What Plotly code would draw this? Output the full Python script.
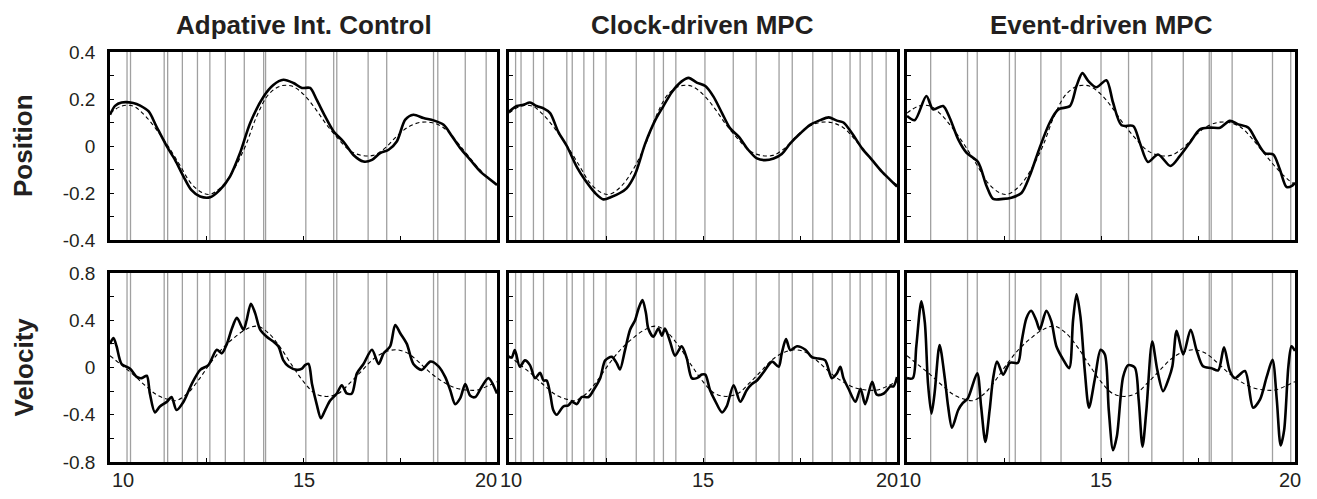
import plotly.graph_objects as go

# ---------------- data ----------------
col_titles = ["Adpative Int. Control", "Clock-driven MPC", "Event-driven MPC"]
row_titles = ["Position", "Velocity"]
x_ticks = [10, 12.5, 15, 17.5, 20]
x_tick_labels = {10: "10", 15: "15", 20: "20"}

ref_pos_t = [10.0,10.3,10.6,10.9,11.2,11.5,11.8,12.1,12.4,12.6,12.9,13.2,13.5,13.8,14.1,14.4,14.7,15.0,15.3,15.6,15.9,16.2,16.5,16.8,17.1,17.4,17.7,18.0,18.3,18.6,18.9,19.2,19.5,19.8,20.0]
ref_pos = [0.14,0.17,0.17,0.13,0.07,0.0,-0.08,-0.16,-0.2,-0.205,-0.17,-0.1,0.0,0.13,0.22,0.255,0.255,0.22,0.16,0.09,0.03,-0.02,-0.04,-0.04,-0.01,0.04,0.08,0.1,0.1,0.08,0.03,-0.03,-0.09,-0.14,-0.165]

ref_vel_t = [10.0,10.3,10.6,10.9,11.2,11.5,11.7,12.0,12.3,12.6,12.9,13.2,13.5,13.8,14.1,14.4,14.7,15.0,15.3,15.6,15.9,16.2,16.5,16.8,17.1,17.4,17.7,18.0,18.3,18.6,18.9,19.2,19.5,19.8,20.0]
ref_vel = [0.1,0.02,-0.06,-0.15,-0.23,-0.27,-0.28,-0.22,-0.1,0.04,0.16,0.25,0.32,0.35,0.29,0.17,0.02,-0.12,-0.22,-0.245,-0.22,-0.13,-0.03,0.07,0.13,0.15,0.12,0.04,-0.05,-0.12,-0.17,-0.19,-0.19,-0.15,-0.12]

aic_pos_t = [10.0,10.13,10.3,10.6,10.78,11.0,11.2,11.47,11.68,11.9,12.1,12.33,12.59,12.84,13.1,13.36,13.62,13.97,14.22,14.48,14.74,14.96,15.17,15.34,15.56,15.78,16.03,16.29,16.55,16.77,16.98,17.2,17.41,17.63,17.84,18.1,18.36,18.62,18.84,19.05,19.31,19.57,19.78,20.0]
aic_pos = [0.133,0.171,0.185,0.183,0.172,0.147,0.083,-0.002,-0.059,-0.13,-0.187,-0.215,-0.218,-0.187,-0.13,-0.03,0.097,0.211,0.26,0.282,0.268,0.247,0.247,0.197,0.126,0.062,0.019,-0.038,-0.066,-0.059,-0.03,-0.016,0.019,0.112,0.133,0.119,0.109,0.09,0.041,-0.009,-0.059,-0.109,-0.137,-0.166]

aic_vel_t = [10.0,10.09,10.17,10.3,10.52,10.69,10.82,10.95,11.03,11.16,11.29,11.47,11.59,11.72,11.9,12.11,12.33,12.54,12.76,12.89,13.02,13.15,13.28,13.45,13.53,13.64,13.75,13.88,14.05,14.22,14.35,14.48,14.61,14.83,14.96,15.04,15.13,15.22,15.34,15.45,15.56,15.69,15.86,15.99,16.12,16.25,16.38,16.55,16.77,16.94,17.07,17.24,17.37,17.5,17.67,17.84,18.05,18.28,18.49,18.66,18.79,18.92,19.05,19.18,19.31,19.44,19.61,19.78,20.0]
aic_vel = [0.20,0.25,0.18,0.03,-0.01,-0.08,-0.09,-0.07,-0.22,-0.38,-0.33,-0.29,-0.25,-0.36,-0.29,-0.14,-0.02,0.02,0.15,0.12,0.20,0.33,0.42,0.32,0.40,0.54,0.46,0.32,0.26,0.22,0.18,0.06,0.01,-0.02,-0.01,0.02,0.03,-0.14,-0.31,-0.43,-0.36,-0.28,-0.22,-0.15,-0.22,-0.22,-0.05,0.03,0.15,0.03,0.12,0.18,0.36,0.29,0.20,0.03,-0.02,0.05,0.01,-0.08,-0.19,-0.31,-0.26,-0.14,-0.24,-0.25,-0.16,-0.09,-0.22]

cmpc_pos_t = [10.0,10.2,10.37,10.54,10.71,10.89,11.06,11.27,11.49,11.75,11.96,12.22,12.43,12.65,12.86,13.03,13.25,13.51,13.77,13.98,14.2,14.45,14.63,14.84,15.06,15.27,15.49,15.7,15.92,16.17,16.39,16.6,16.82,17.03,17.25,17.51,17.76,18.02,18.24,18.45,18.62,18.84,19.1,19.36,19.61,19.83,20.0]
cmpc_pos = [0.146,0.17,0.175,0.185,0.17,0.16,0.14,0.06,0.0,-0.09,-0.145,-0.20,-0.227,-0.216,-0.20,-0.18,-0.12,0.01,0.11,0.17,0.23,0.275,0.29,0.27,0.255,0.21,0.14,0.075,0.04,-0.017,-0.053,-0.06,-0.053,-0.034,0.011,0.054,0.09,0.11,0.122,0.108,0.1,0.054,-0.01,-0.06,-0.109,-0.145,-0.173]

cmpc_vel_t = [10.0,10.07,10.15,10.28,10.41,10.54,10.67,10.8,10.89,10.97,11.06,11.14,11.23,11.4,11.53,11.62,11.75,11.87,12.05,12.18,12.35,12.48,12.65,12.78,12.86,12.99,13.12,13.25,13.34,13.44,13.53,13.59,13.72,13.85,13.94,14.02,14.15,14.28,14.45,14.58,14.71,14.84,14.97,15.06,15.18,15.31,15.49,15.61,15.79,15.96,16.13,16.26,16.39,16.56,16.78,16.95,17.03,17.14,17.25,17.42,17.64,17.81,17.98,18.15,18.32,18.45,18.54,18.62,18.75,18.93,19.06,19.18,19.36,19.48,19.66,19.83,19.91,20.0]
cmpc_vel = [0.09,0.085,0.147,0.006,0.06,0.02,-0.09,-0.045,-0.11,-0.11,-0.22,-0.36,-0.40,-0.33,-0.32,-0.29,-0.31,-0.25,-0.25,-0.19,-0.09,0.06,0.09,0.034,-0.017,0.147,0.32,0.40,0.50,0.57,0.46,0.33,0.26,0.33,0.27,0.33,0.22,0.10,0.18,0.08,-0.09,-0.09,-0.06,-0.06,-0.19,-0.28,-0.38,-0.33,-0.15,-0.29,-0.19,-0.14,-0.11,-0.04,0.05,0.006,0.12,0.24,0.147,0.18,0.15,0.085,0.076,0.06,-0.09,-0.05,0.006,-0.09,-0.18,-0.29,-0.18,-0.31,-0.12,-0.23,-0.22,-0.16,-0.16,-0.08]

empc_pos_t = [10.0,10.2,10.5,10.67,10.93,11.1,11.32,11.53,11.83,12.05,12.22,12.48,12.69,12.95,13.16,13.42,13.68,13.9,14.2,14.37,14.52,14.67,14.88,15.14,15.31,15.53,15.83,16.0,16.21,16.47,16.79,17.03,17.29,17.55,17.81,18.07,18.32,18.54,18.8,19.01,19.23,19.44,19.61,19.78,19.91,20.0]
empc_pos = [0.128,0.11,0.213,0.156,0.17,0.12,0.028,-0.028,-0.068,-0.17,-0.225,-0.225,-0.22,-0.2,-0.128,-0.007,0.1,0.156,0.17,0.256,0.31,0.277,0.25,0.28,0.185,0.088,0.085,0.014,-0.068,-0.036,-0.085,-0.043,0.014,0.071,0.078,0.078,0.107,0.092,0.078,0.021,-0.031,-0.036,-0.1,-0.174,-0.171,-0.156]

empc_vel_t = [10.0,10.15,10.24,10.37,10.46,10.54,10.63,10.71,10.84,10.97,11.06,11.16,11.32,11.44,11.57,11.81,11.91,12.02,12.13,12.22,12.32,12.48,12.65,12.86,12.95,13.08,13.2,13.33,13.42,13.59,13.72,13.85,14.03,14.18,14.28,14.37,14.47,14.58,14.69,14.84,14.99,15.1,15.2,15.31,15.41,15.57,15.7,15.87,15.97,16.07,16.17,16.32,16.45,16.6,16.75,16.84,16.95,17.12,17.31,17.46,17.63,17.85,18.02,18.17,18.32,18.45,18.71,18.92,19.1,19.27,19.42,19.53,19.63,19.72,19.83,19.91,20.0]
empc_vel = [-0.09,-0.09,0.18,0.56,0.38,-0.13,-0.39,-0.22,0.19,-0.08,-0.33,-0.51,-0.36,-0.30,-0.26,-0.05,-0.33,-0.63,-0.36,-0.09,0.05,-0.06,0.04,0.04,0.21,0.42,0.48,0.40,0.32,0.48,0.39,0.18,0.065,-0.006,0.40,0.62,0.43,-0.02,-0.34,-0.10,0.15,0.11,-0.36,-0.70,-0.58,-0.08,0.02,0.0,-0.27,-0.67,-0.36,0.22,-0.02,-0.20,-0.09,0.01,0.31,0.11,0.32,0.15,0.01,-0.006,-0.025,0.17,-0.03,-0.09,-0.03,-0.34,-0.27,-0.08,0.065,-0.27,-0.66,-0.53,0.01,0.18,0.14]

# event (update) instants per controller
aic_events = [10.44,10.53,11.40,11.49,11.87,12.26,12.58,12.98,13.47,13.97,14.02,15.06,15.78,15.86,16.67,17.15,18.36,18.47,19.18,19.72]
cmpc_events = [10.17,10.31,10.63,10.89,11.49,11.63,11.93,12.18,12.50,13.28,13.74,13.98,14.30,15.05,15.78,16.37,16.96,17.30,17.83,18.33,18.79,19.05,19.36,19.72]
empc_events = [10.61,11.56,11.81,12.64,12.79,13.45,13.97,15.00,15.71,16.31,17.12,17.79,17.84,18.38,19.42,19.89]

# ---------------- figure ----------------
W, H = 1317, 499
col_px = [(110, 497), (509, 897), (907, 1295)]
row_px = [(52, 240), (273, 462)]
FONT = "Liberation Sans, Arial, sans-serif"
TXT = "#231f20"

solids = [[(aic_pos_t, aic_pos), (cmpc_pos_t, cmpc_pos), (empc_pos_t, empc_pos)],
          [(aic_vel_t, aic_vel), (cmpc_vel_t, cmpc_vel), (empc_vel_t, empc_vel)]]
refs = [(ref_pos_t, ref_pos), (ref_vel_t, ref_vel)]
events = [aic_events, cmpc_events, empc_events]

fig = go.Figure()
layout = dict(width=W, height=H, margin=dict(l=0, r=0, t=0, b=0, pad=0, autoexpand=False),
              paper_bgcolor="white", plot_bgcolor="white", showlegend=False,
              font=dict(family=FONT, color=TXT))
shapes = []
annotations = []

# x tick-label placement per column: (anchor, pixel shift) for 10, 15, 20
xlab_style = [
    {10: ("left", 0), 15: ("center", 0), 20: ("right", 2)},
    {10: ("center", 2), 15: ("center", 0), 20: ("right", 3)},
    {10: ("center", 3), 15: ("center", 0), 20: ("center", -5)},
]

for r in range(2):
    for c in range(3):
        k = r * 3 + c + 1
        xa = "x" if k == 1 else f"x{k}"
        ya = "y" if k == 1 else f"y{k}"
        for e in events[c]:
            shapes.append(dict(type="line", xref=xa, yref=f"{ya} domain", x0=e, x1=e, y0=0, y1=1,
                               line=dict(color="#a0a0a0", width=1.3), layer="below"))
        rt, rv = refs[r]
        fig.add_trace(go.Scatter(x=rt, y=rv, mode="lines", xaxis=xa, yaxis=ya,
                                 line=dict(color="black", width=1.1, dash="4px,3px", shape="spline")))
        st, sv = solids[r][c]
        fig.add_trace(go.Scatter(x=st, y=sv, mode="lines", xaxis=xa, yaxis=ya,
                                 line=dict(color="black", width=2.6, shape="spline", smoothing=0.8)))
        x0, x1 = col_px[c]
        y0, y1 = row_px[r]
        xkey = "xaxis" if k == 1 else f"xaxis{k}"
        ykey = "yaxis" if k == 1 else f"yaxis{k}"
        layout[xkey] = dict(domain=[x0 / W, x1 / W], anchor=ya, range=[10, 20],
                            showgrid=False, zeroline=False, showline=True, mirror=True,
                            linecolor="black", linewidth=2.5, automargin=False,
                            ticks="inside", ticklen=4, tickcolor="black", tickwidth=1,
                            tickvals=x_ticks, showticklabels=False)
        if r == 1:
            for v, txt in x_tick_labels.items():
                anc, sh = xlab_style[c][v]
                annotations.append(dict(text=txt, x=v, xref=xa, y=1 - 480 / H, yref="paper",
                                        xanchor=anc, yanchor="middle", xshift=sh,
                                        showarrow=False,
                                        font=dict(family=FONT, size=20, color=TXT)))
        if r == 0:
            yv = [-0.4, -0.3, -0.2, -0.1, 0, 0.1, 0.2, 0.3, 0.4]
            yt = ["-0.4", "", "-0.2", "", "0", "", "0.2", "", "0.4"]
            yr = [-0.4, 0.4]
        else:
            yv = [-0.8, -0.6, -0.4, -0.2, 0, 0.2, 0.4, 0.6, 0.8]
            yt = ["-0.8", "", "-0.4", "", "0", "", "0.4", "", "0.8"]
            yr = [-0.8, 0.8]
        layout[ykey] = dict(domain=[1 - y1 / H, 1 - y0 / H], anchor=xa, range=yr,
                            showgrid=False, zeroline=False, showline=True, mirror=True,
                            linecolor="black", linewidth=2.5, automargin=False,
                            ticks="inside", ticklen=4, tickcolor="black", tickwidth=1,
                            tickvals=yv, ticktext=yt, showticklabels=(c == 0),
                            ticklabelstandoff=8,
                            tickfont=dict(family=FONT, size=19, color=TXT))

for c, t in enumerate(col_titles):
    x0, x1 = col_px[c]
    annotations.append(dict(text=f"<b>{t}</b>", x=(x0 + x1) / 2 / W, y=1 - 25 / H,
                            xref="paper", yref="paper", showarrow=False,
                            xanchor="center", yanchor="middle",
                            font=dict(family=FONT, size=26, color=TXT)))
for r, t in enumerate(row_titles):
    y0, y1 = row_px[r]
    annotations.append(dict(text=f"<b>{t}</b>", x=23 / W, y=1 - (y0 + y1) / 2 / H,
                            xref="paper", yref="paper", showarrow=False, textangle=-90,
                            xanchor="center", yanchor="middle",
                            font=dict(family=FONT, size=26, color=TXT)))
layout["annotations"] = annotations
layout["shapes"] = shapes
fig.update_layout(**layout)
fig.write_html("out.html")
